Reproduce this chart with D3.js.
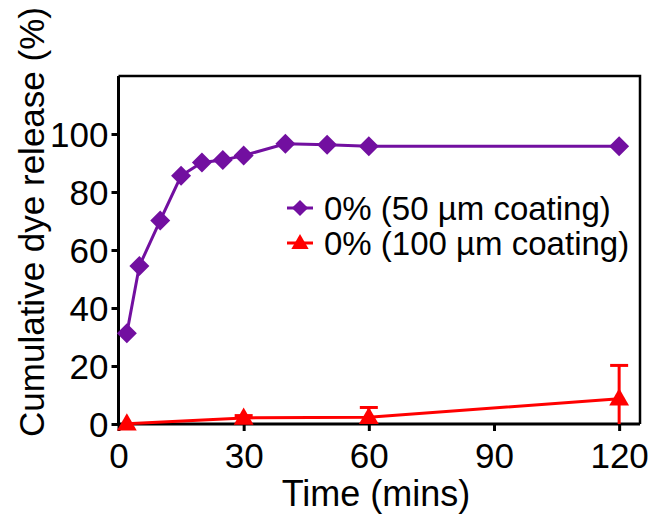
<!DOCTYPE html>
<html>
<head>
<meta charset="utf-8">
<script src="https://cdn.jsdelivr.net/npm/d3@7"></script>
<style>
  html, body { margin: 0; padding: 0; background: #fff; }
  svg { display: block; }
  text { font-family: "Liberation Sans", Arial, sans-serif; fill: #000; }
</style>
</head>
<body>
<svg id="chart" width="655" height="515"></svg>
<script>
// ---- Data ----
const seriesNames = ["0% (50 \u00b5m coating)", "0% (100 \u00b5m coating)"];
const timesA = [2, 5, 10, 15, 20, 25, 30, 40, 50, 60, 120];
const releaseA = [31.3, 54.5, 70.2, 85.6, 90.2, 91.0, 92.6, 96.6, 96.3, 95.8, 95.8];
const timesB = [2, 30, 60, 120];
const releaseB = [0.1, 2.1, 2.3, 8.7];
const errorB = [0, 0.8, 3.4, 11.5];
const xTicks = [0, 30, 60, 90, 120];
const yTicks = [0, 20, 40, 60, 80, 100];
const xTitle = "Time (mins)";
const yTitle = "Cumulative dye release (%)";
const colors = ["#720fa0", "#ff0000"];

// ---- Layout ----
const svg = d3.select("#chart");
const mLeft = 118.5, mRight = 640, mTop = 76, mBottom = 424;
const x = d3.scaleLinear().domain([0, 125]).range([mLeft, mRight]);
const y = d3.scaleLinear().domain([0, 120]).range([mBottom, mTop]);

// Box (top & right)
svg.append("path")
  .attr("d", `M${mLeft},${mTop}H${mRight}V${mBottom}`)
  .attr("fill", "none").attr("stroke", "#000").attr("stroke-width", 2.5);

// Axes
const xAxis = svg.append("g").attr("transform", `translate(0,${mBottom})`)
  .call(d3.axisBottom(x).tickValues(xTicks).tickSize(7).tickPadding(12).tickFormat(d3.format("d")));
const yAxis = svg.append("g").attr("transform", `translate(${mLeft},0)`)
  .call(d3.axisLeft(y).tickValues(yTicks).tickSize(7).tickPadding(3).tickFormat(d3.format("d")));
[xAxis, yAxis].forEach(g => {
  g.select(".domain").attr("stroke", "#000").attr("stroke-width", 3);
  g.selectAll(".tick line").attr("stroke", "#000").attr("stroke-width", 3);
  g.selectAll(".tick text").style("font-family", "'Liberation Sans', Arial, sans-serif")
    .style("font-size", "35px").attr("fill", "#000");
});
xAxis.select(".domain").attr("d", `M${mLeft},0H${mRight}`);
yAxis.select(".domain").attr("d", `M0,${y(0)}V${mTop}`);
yAxis.selectAll(".tick text").attr("dy", "0.36em");

// Titles
svg.append("text").attr("x", 376).attr("y", 506)
  .attr("text-anchor", "middle").style("font-size", "36px").text(xTitle);
svg.append("text").attr("transform", `translate(44,222) rotate(-90)`)
  .attr("text-anchor", "middle").style("font-size", "35px").text(yTitle);

// Lines
const line = d3.line().x(d => x(d[0])).y(d => y(d[1]));
const dataA = timesA.map((t, i) => [t, releaseA[i]]);
const dataB = timesB.map((t, i) => [t, releaseB[i], errorB[i]]);

// Error bars (series B)
const eb = svg.append("g").attr("stroke", colors[1]).attr("stroke-width", 3);
dataB.forEach(d => {
  if (d[2] <= 0) return;
  const hi = y(d[1] + d[2]);
  const lo = y(Math.max(0, d[1] - d[2]));
  eb.append("line").attr("x1", x(d[0])).attr("x2", x(d[0])).attr("y1", lo).attr("y2", hi);
  eb.append("line").attr("x1", x(d[0]) - 9).attr("x2", x(d[0]) + 9).attr("y1", hi).attr("y2", hi);
});

svg.append("path").datum(dataA).attr("d", line)
  .attr("fill", "none").attr("stroke", colors[0]).attr("stroke-width", 3);
svg.append("path").datum(dataB).attr("d", line)
  .attr("fill", "none").attr("stroke", colors[1]).attr("stroke-width", 3);

const tri = d3.symbol().type(d3.symbolTriangle).size(170);

svg.append("g").selectAll("path").data(dataA).join("path")
  .attr("transform", d => `translate(${x(d[0])},${y(d[1])}) rotate(45)`)
  .attr("d", d3.symbol().type(d3.symbolSquare).size(200)).attr("fill", colors[0]);
svg.append("g").selectAll("path").data(dataB).join("path")
  .attr("transform", d => `translate(${x(d[0])},${y(d[1]) + 1})`)
  .attr("d", tri).attr("fill", colors[1]);

// Legend
const legX = 300;
const legRows = [208, 243];
const lg = svg.append("g");
legRows.forEach((ly, i) => {
  lg.append("line").attr("x1", legX - 13).attr("x2", legX + 13).attr("y1", ly).attr("y2", ly)
    .attr("stroke", colors[i]).attr("stroke-width", 3);
  if (i === 0) {
    lg.append("path").attr("transform", `translate(${legX},${ly}) rotate(45)`)
      .attr("d", d3.symbol().type(d3.symbolSquare).size(130)).attr("fill", colors[i]);
  } else {
    lg.append("path").attr("transform", `translate(${legX},${ly + 1})`)
      .attr("d", d3.symbol().type(d3.symbolTriangle).size(130)).attr("fill", colors[i]);
  }
  lg.append("text").attr("x", 324).attr("y", ly + 12).style("font-size", "33px")
    .text(seriesNames[i]);
});
</script>
</body>
</html>
